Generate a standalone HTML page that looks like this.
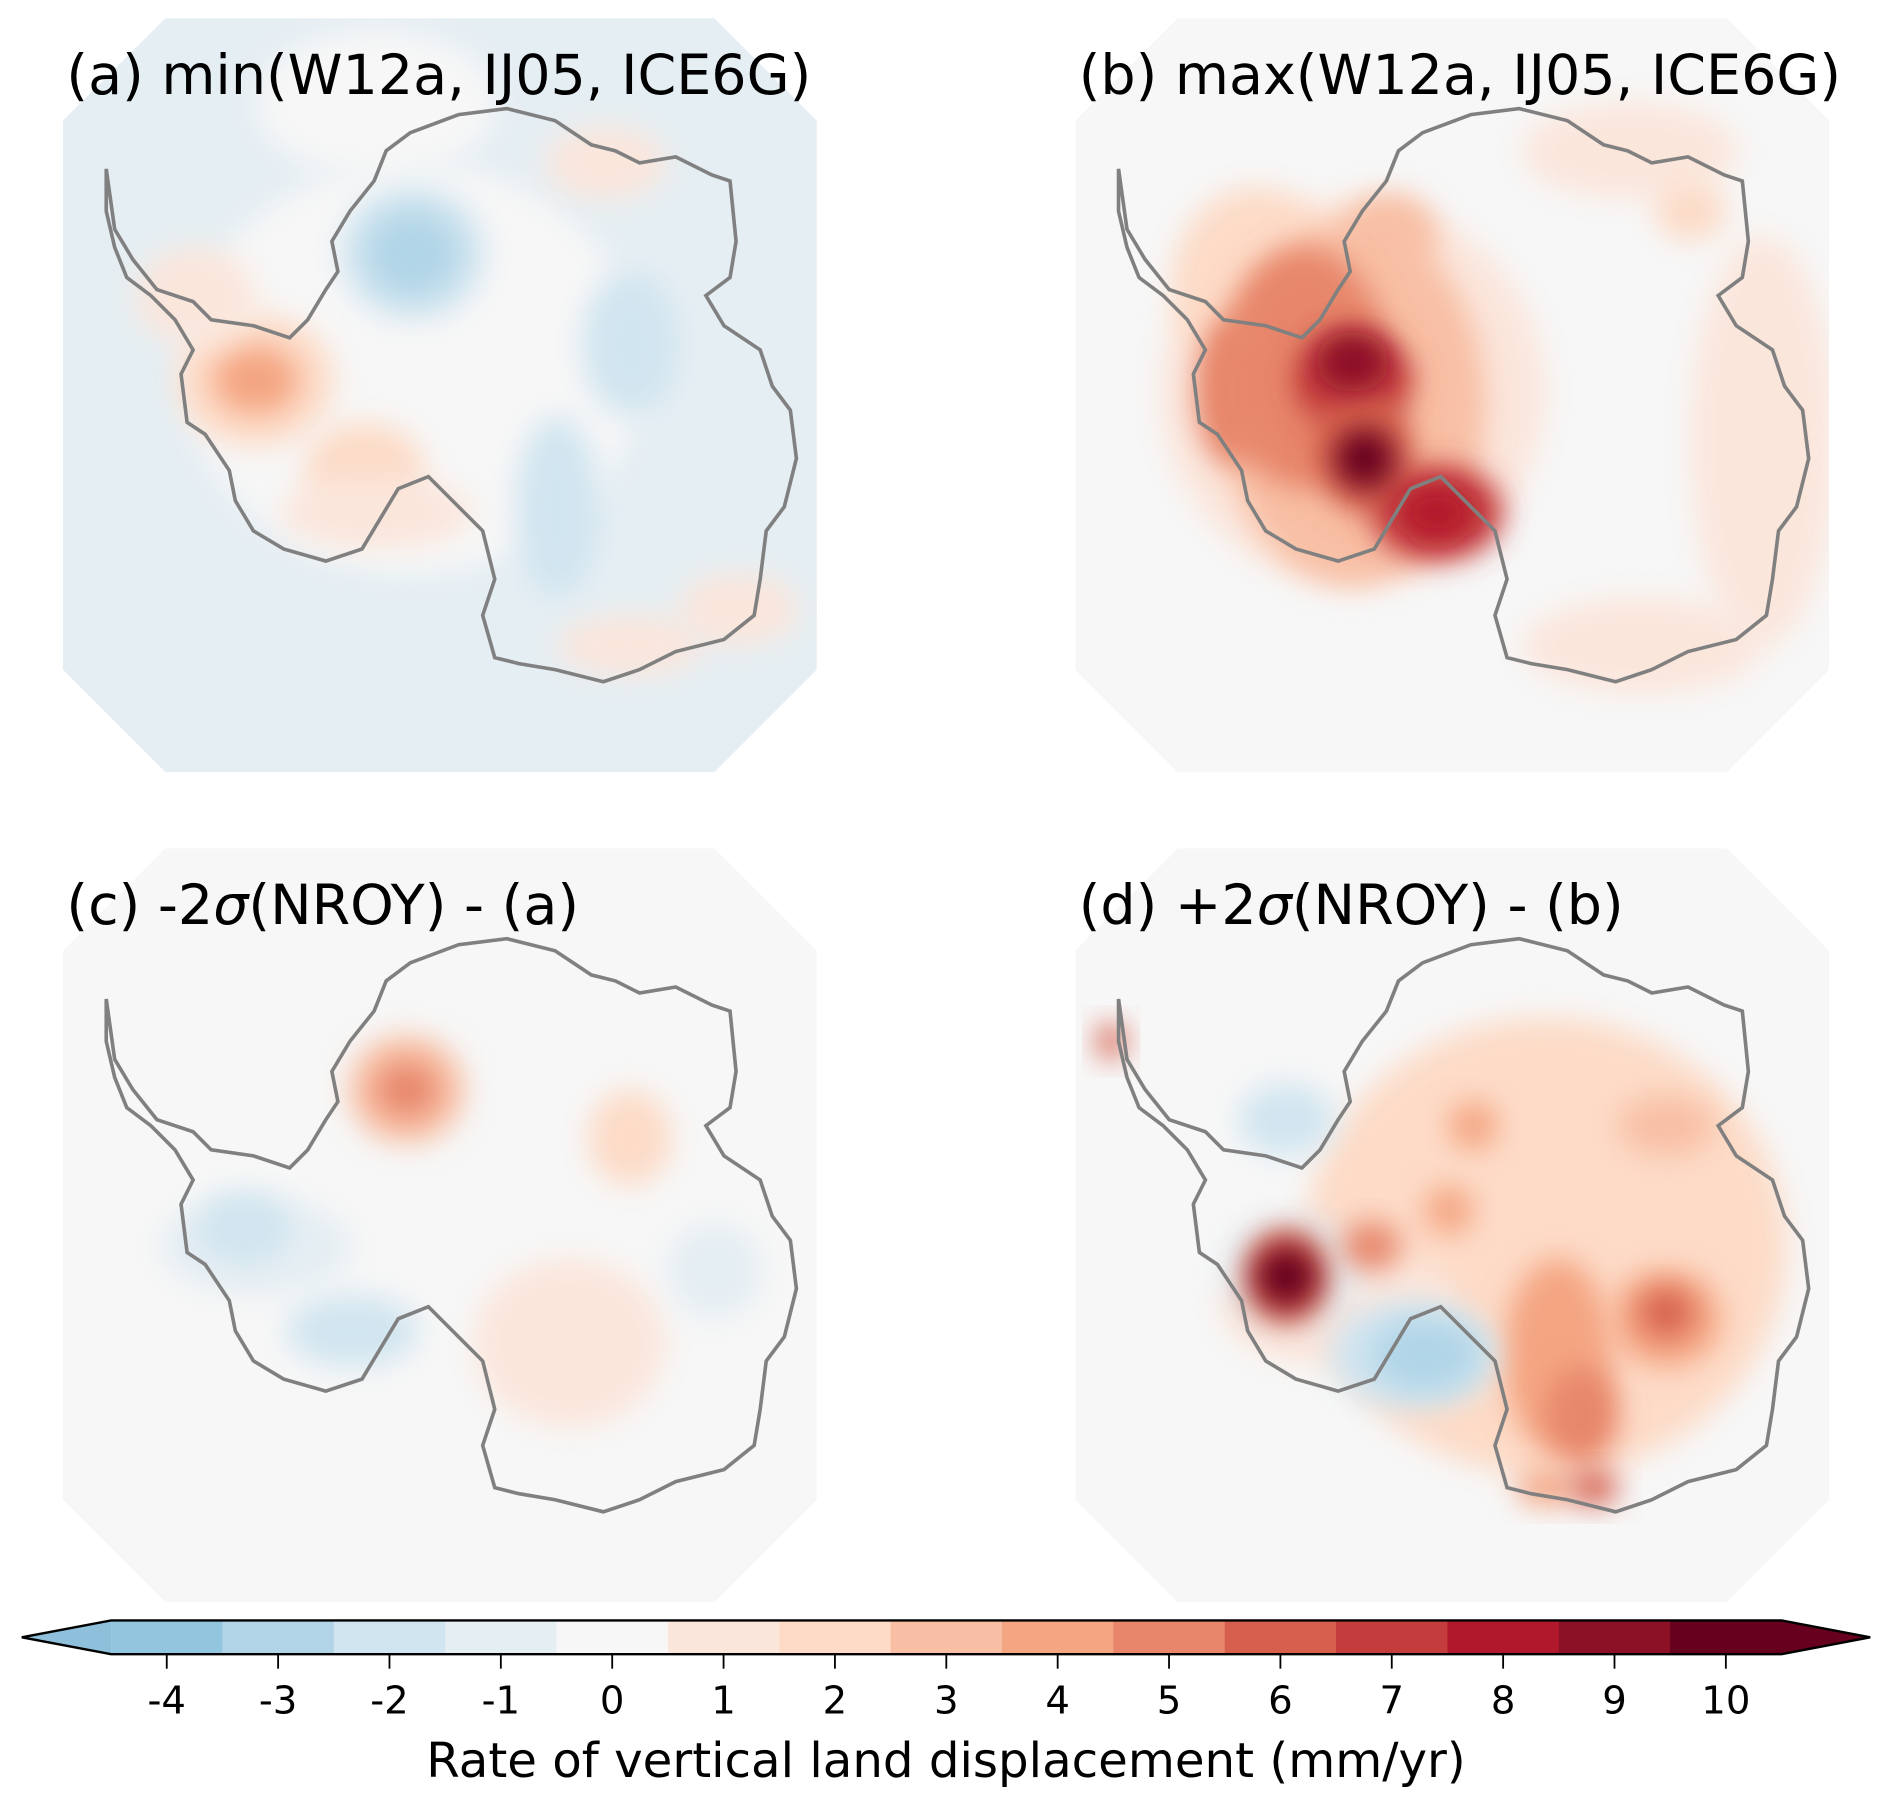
<!DOCTYPE html>
<html><head><meta charset="utf-8"><style>
html,body{margin:0;padding:0;background:#fff;}
svg{display:block;font-family:"DejaVu Sans","Liberation Sans",sans-serif;}
</style></head><body>
<svg id="fig" width="1892" height="1805" viewBox="0 0 1568 1496" xmlns="http://www.w3.org/2000/svg">
<defs>
<filter id="blur" x="-50%" y="-50%" width="200%" height="200%"><feGaussianBlur stdDeviation="12"/></filter>
<clipPath id="oct"><polygon points="85,0 540,0 625,85 625,540 540,625 85,625 0,540 0,85"/></clipPath>
</defs>
<g id="panels"></g>
<g id="cbar"></g>
</svg>
<script>
const levels = [-4,-3,-2,-1,0,1,2,3,4,5,6,7,8,9,10];
const colors = ["#92c5de","#b1d5e7","#d1e5f0","#e5eef3","#f7f7f7","#fbe6dc","#fddbc7","#f8bfa4","#f4a582","#e7866a","#d6604d","#c43c3c","#b2182b","#8c1026","#67001f"];
const tickLabels = ["-4","-3","-2","-1","0","1","2","3","4","5","6","7","8","9","10"];
const panelPre = ["(a) min(W12a, IJ05, ICE6G)","(b) max(W12a, IJ05, ICE6G)","(c) -2","(d) +2"];
const panelPost = ["","","(NROY) - (a)","(NROY) - (b)"];
const panelBg = [-1, 0, 0, 0];
// blobs: [x, y, rx, ry, value] in panel-local coords
const blobsA = [[290,290,190,170,0],[260,70,100,60,0],[290,195,60,55,-2],[290,195,38,35,-3],[470,270,40,60,-2],[410,405,35,75,-2],[160,300,65,55,2],[160,300,35,28,4],[250,375,50,40,2],[260,410,80,30,1],[110,230,50,40,1],[560,490,50,30,1],[470,520,60,25,1],[450,120,50,30,1]];
const blobsB = [[570,350,60,170,1],[470,520,100,40,1],[460,110,90,40,1],[230,310,160,160,1],[150,220,70,80,2],[230,320,110,150,3],[260,180,40,35,3],[510,160,30,25,2],[190,290,70,100,5],[230,300,50,40,7],[240,360,40,50,6],[300,410,55,40,7],[230,285,30,25,9],[240,365,25,25,10],[300,410,30,22,8],[130,310,30,60,5]];
const blobsC = [[160,330,80,40,-1],[150,315,40,30,-2],[240,400,55,30,-2],[285,200,48,45,3],[285,200,25,22,5],[470,240,35,40,2],[420,410,80,70,1],[540,350,40,40,-1]];
const blobsD = [[390,330,200,190,2],[220,380,100,50,1],[400,360,70,130,2],[330,230,20,20,4],[310,300,20,20,4],[490,230,40,25,3],[490,390,45,40,4],[490,385,22,20,6],[400,420,45,80,4],[420,470,30,40,5],[180,350,60,45,-1],[280,420,70,45,-2],[290,420,45,30,-3],[175,225,40,30,-2],[175,355,35,40,6],[175,355,25,25,10],[245,330,25,20,5],[30,160,12,15,6],[390,530,25,15,4],[430,530,20,15,6]];
const allBlobs = [blobsA, blobsB, blobsC, blobsD];
const origins = [[52,15],[891,15],[52,703],[891,703]];
const coast = [[36,125],[43,175],[58,200],[78,225],[108,235],[123,250],[158,255],[188,265],[203,250],[218,225],[228,210],[223,185],[238,160],[258,135],[268,110],[288,95],[328,80],[368,75],[408,85],[438,105],[458,110],[478,120],[508,115],[538,130],[553,135],[558,185],[553,215],[533,230],[548,255],[578,275],[588,305],[603,325],[608,365],[598,405],[583,425],[578,465],[573,495],[548,515],[508,525],[478,540],[448,550],[408,540],[378,535],[358,530],[348,495],[358,465],[348,425],[328,405],[303,380],[278,390],[263,415],[248,440],[218,450],[183,440],[158,425],[143,400],[138,375],[118,345],[103,335],[98,295],[108,275],[93,250],[73,230],[53,215],[43,190],[36,160]];
const NS = "http://www.w3.org/2000/svg";
function colorOf(v){ let i=Math.round(v)-levels[0]; i=Math.max(0,Math.min(colors.length-1,i)); return colors[i]; }
const cbX0 = 92, cbW = 92.3;
function xScale(v){ return cbX0 + (v - levels[0] + 0.5)*cbW; }
const panels = document.getElementById('panels');
allBlobs.forEach((blobs, p) => {
  const g = document.createElementNS(NS,'g');
  
  
  g.setAttribute('transform', `translate(${origins[p][0]},${origins[p][1]})`);
  const inner = document.createElementNS(NS,'g');
  inner.setAttribute('clip-path','url(#oct)');
  const bg = document.createElementNS(NS,'polygon');
  bg.setAttribute('points','85,0 540,0 625,85 625,540 540,625 85,625 0,540 0,85');
  bg.setAttribute('fill', colorOf(panelBg[p]));
  
  
  inner.appendChild(bg);
  blobs.forEach(b => {
    const e = document.createElementNS(NS,'ellipse');
    e.setAttribute('cx', b[0]); e.setAttribute('cy', b[1]);
    e.setAttribute('rx', b[2]); e.setAttribute('ry', b[3]);
    e.setAttribute('fill', colorOf(b[4]));
    e.setAttribute('filter','url(#blur)');
    
    
    inner.appendChild(e);
  });
  g.appendChild(inner);
  const pl = document.createElementNS(NS,'polygon');
  pl.setAttribute('points', coast.map(c=>c.join(',')).join(' '));
  pl.setAttribute('fill','none'); pl.setAttribute('stroke','#808080'); pl.setAttribute('stroke-width','3');
  
  
  g.appendChild(pl);
  const t = document.createElementNS(NS,'text');
  t.setAttribute('x', 3); t.setAttribute('y', 63);
  t.setAttribute('font-size', 46); t.setAttribute('fill','#000');
  t.appendChild(document.createTextNode(panelPre[p]));
  if (panelPost[p]) {
    const s = document.createElementNS(NS,'tspan');
    s.setAttribute('font-style','italic');
    s.textContent = '\u03c3';
    t.appendChild(s);
    t.appendChild(document.createTextNode(panelPost[p]));
  }
  
  
  g.appendChild(t);
  panels.appendChild(g);
});
// colorbar
const cb = document.getElementById('cbar');
const yT = 1343, yB = 1371;
const la = document.createElementNS(NS,'polygon');
la.setAttribute('points', `${xScale(levels[0]-0.5)},${yT} 18,${(yT+yB)/2} ${xScale(levels[0]-0.5)},${yB}`);
la.setAttribute('fill','#8fc0db');


cb.appendChild(la);
const ra = document.createElementNS(NS,'polygon');
ra.setAttribute('points', `${xScale(levels[levels.length-1]+0.5)},${yT} 1550,${(yT+yB)/2} ${xScale(levels[levels.length-1]+0.5)},${yB}`);
ra.setAttribute('fill','#67001f');


cb.appendChild(ra);
levels.forEach((v,i) => {
  const r = document.createElementNS(NS,'rect');
  r.setAttribute('x', xScale(v-0.5)); r.setAttribute('y', yT);
  r.setAttribute('width', cbW+0.5); r.setAttribute('height', yB-yT);
  r.setAttribute('fill', colors[i]);
  
  
  cb.appendChild(r);
  const tk = document.createElementNS(NS,'line');
  tk.setAttribute('x1', xScale(v)); tk.setAttribute('x2', xScale(v));
  tk.setAttribute('y1', yB); tk.setAttribute('y2', yB+12);
  tk.setAttribute('stroke','#000'); tk.setAttribute('stroke-width','1.5');
  
  
  cb.appendChild(tk);
  const tl = document.createElementNS(NS,'text');
  tl.setAttribute('x', xScale(v)); tl.setAttribute('y', 1420);
  tl.setAttribute('font-size', 32); tl.setAttribute('text-anchor','middle');
  tl.textContent = tickLabels[i];
  
  
  cb.appendChild(tl);
});
const outline = document.createElementNS(NS,'polygon');
outline.setAttribute('points', `18,${(yT+yB)/2} ${xScale(levels[0]-0.5)},${yT} ${xScale(levels[levels.length-1]+0.5)},${yT} 1550,${(yT+yB)/2} ${xScale(levels[levels.length-1]+0.5)},${yB} ${xScale(levels[0]-0.5)},${yB}`);
outline.setAttribute('fill','none'); outline.setAttribute('stroke','#000'); outline.setAttribute('stroke-width','2');


cb.appendChild(outline);
const lab = document.createElementNS(NS,'text');
lab.setAttribute('x', 784); lab.setAttribute('y', 1473);
lab.setAttribute('font-size', 40); lab.setAttribute('text-anchor','middle');
lab.textContent = 'Rate of vertical land displacement (mm/yr)';


cb.appendChild(lab);
</script>
</body></html>
